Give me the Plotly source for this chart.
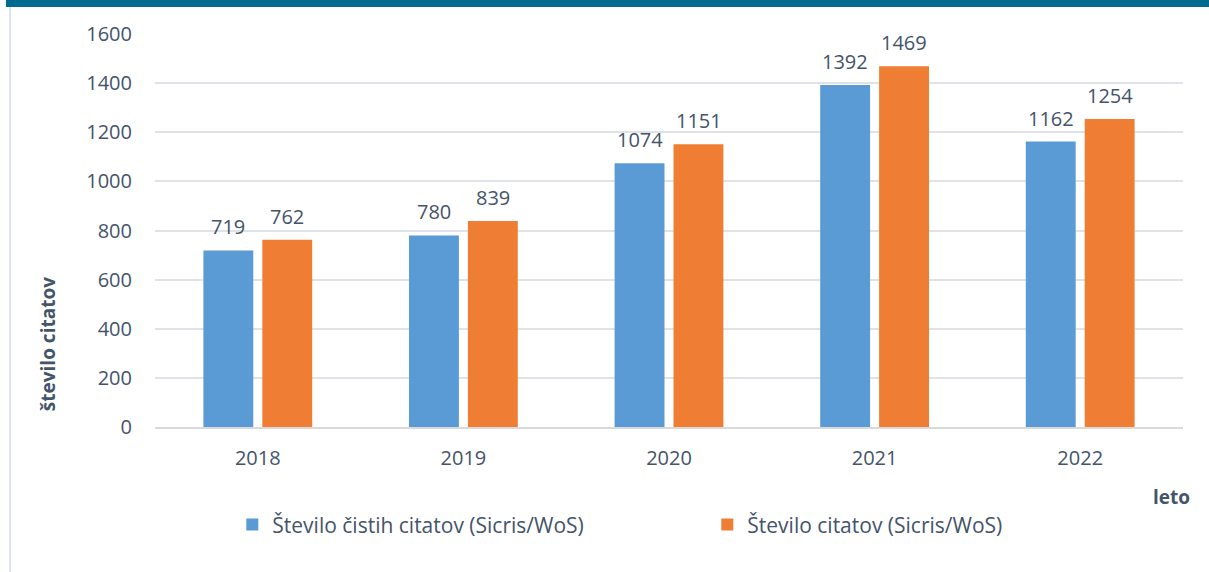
import plotly.graph_objects as go

# podatki
leta = ["2018", "2019", "2020", "2021", "2022"]
cisti_citati = [719, 780, 1074, 1392, 1162]
vsi_citati = [762, 839, 1151, 1469, 1254]
ime_cisti = "Število čistih citatov (Sicris/WoS)"
ime_vsi = "Število citatov (Sicris/WoS)"
y_ticks = [0, 200, 400, 600, 800, 1000, 1200, 1400, 1600]

txt_col = "#44546A"
fnt = "Open Sans"

fig = go.Figure()
fig.add_trace(go.Bar(x=leta, y=cisti_citati, name=ime_cisti,
                     marker=dict(color="#5B9BD5", line=dict(width=0))))
fig.add_trace(go.Bar(x=leta, y=vsi_citati, name=ime_vsi,
                     marker=dict(color="#EF7E34", line=dict(width=0))))

# oznake vrednosti nad stolpci (x = indeks kategorije, zamik levo/desno za skupino)
for serija, pomik in ((cisti_citati, -29.5), (vsi_citati, 29.5)):
    for i, v in enumerate(serija):
        fig.add_annotation(x=i, y=v, text=str(v), showarrow=False,
                           xshift=pomik, yshift=8, yanchor="bottom",
                           font=dict(size=20, color=txt_col, family=fnt))

fig.update_layout(
    width=1209, height=572,
    margin=dict(l=155, r=26, t=34, b=145),
    paper_bgcolor="white", plot_bgcolor="white",
    barmode="group", bargap=0.427, bargroupgap=0.153,
    font=dict(family=fnt, color=txt_col, size=20),
    showlegend=True,
    legend=dict(orientation="h", x=0.0752, xanchor="left", y=-0.249, yanchor="middle",
                font=dict(size=21, color=txt_col, family=fnt),
                entrywidth=430, entrywidthmode="pixels", itemwidth=30,
                traceorder="normal"),
)
fig.update_xaxes(type="category", showgrid=False, showline=True, linecolor="#D9D9D9",
                 linewidth=1.5, ticks="", tickfont=dict(size=20, color=txt_col),
                 ticklabelstandoff=12)
fig.update_yaxes(range=[0, 1600], tickvals=y_ticks, showgrid=True, gridcolor="#DFE3E8",
                 gridwidth=1.5, zeroline=False, showline=False, ticks="",
                 tickfont=dict(size=20, color=txt_col), ticklabelstandoff=22)

# naslovi osi
fig.add_annotation(text="<b>število citatov</b>", xref="paper", yref="paper",
                   x=-0.104, y=0.211, xanchor="center", yanchor="middle",
                   textangle=-90, showarrow=False,
                   font=dict(size=19, color=txt_col, family=fnt))
fig.add_annotation(text="<b>leto</b>", xref="paper", yref="paper",
                   x=1.0087, y=-0.178, xanchor="right", yanchor="middle", showarrow=False,
                   font=dict(size=19, color=txt_col, family=fnt))

# zgornji pas in levi rob
fig.add_shape(type="rect", xref="paper", yref="paper",
              x0=-0.145, x1=1.03, y0=1.0687, y1=1.1,
              fillcolor="#006B8F", line=dict(width=0), layer="above")
fig.add_shape(type="line", xref="paper", yref="paper",
              x0=-0.141, x1=-0.141, y0=-0.4, y1=1.0687,
              line=dict(color="#DCE3EA", width=2))

fig.write_html("out.html", config={"displayModeBar": False},
               post_script="document.body.style.margin='0';")
